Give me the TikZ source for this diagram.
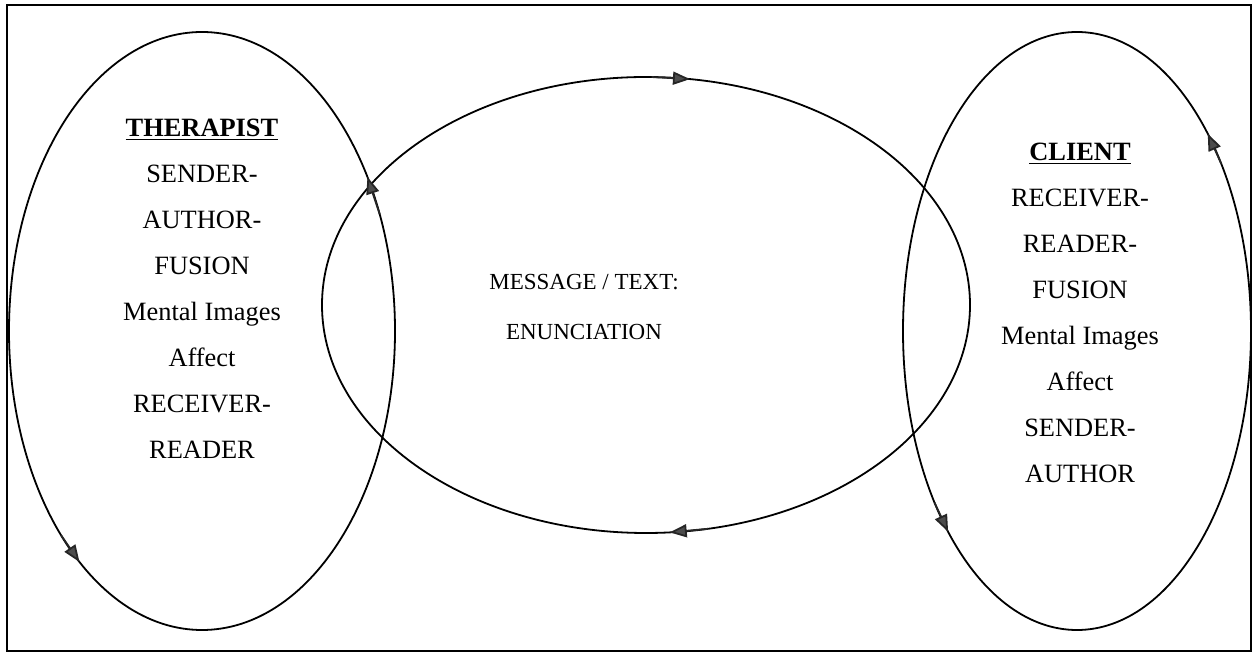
\documentclass[tikz,border=0pt]{standalone}
\usepackage{fontspec}
\setmainfont{Liberation Serif}
\usetikzlibrary{arrows.meta}
\begin{document}
\begin{tikzpicture}[x=0.5pt,y=0.5pt,
  ring/.style={draw=black, line width=0.9pt},
  tipmark/.style={draw=black!85, line width=0.9pt, -{Triangle[length=8.5pt,width=6.5pt,fill=black!70]}},
  side/.style={align=center, font=\fontsize{13.2}{23}\selectfont, inner sep=0pt},
  mid/.style={align=center, font=\fontsize{11.5}{25}\selectfont, inner sep=0pt}]
\useasboundingbox (0,0) rectangle (1252,653);
\draw[line width=1.3pt] (7,2) rectangle (1251,648);
% ellipse centres
\coordinate (L) at (202,322);
\coordinate (M) at (646,348);
\coordinate (R) at (1077,322);
% ellipses
\draw[ring] (L) ellipse [x radius=96.5pt, y radius=149.5pt];
\draw[ring] (M) ellipse [x radius=162pt, y radius=114pt];
\draw[ring] (R) ellipse [x radius=87pt, y radius=149.5pt];
% arrowheads on left ellipse (counterclockwise)
\draw[tipmark] ([shift={(23:193 and 299)}]L) -- ([shift={(31:193 and 299)}]L);
\draw[tipmark] ([shift={(223:193 and 299)}]L) -- ([shift={(230.6:193 and 299)}]L);
% arrowheads on middle ellipse (clockwise)
\draw[tipmark] ([shift={(89:324 and 228)}]M) -- ([shift={(82.2:324 and 228)}]M);
\draw[tipmark] ([shift={(281:324 and 228)}]M) -- ([shift={(274.2:324 and 228)}]M);
% arrowheads on right ellipse (counterclockwise)
\draw[tipmark] ([shift={(34:174 and 299)}]R) -- ([shift={(41.3:174 and 299)}]R);
\draw[tipmark] ([shift={(215:174 and 299)}]R) -- ([shift={(222.2:174 and 299)}]R);
% texts
\node[side] (therapist) at (202,364.5) {\underline{\textbf{THERAPIST}}\\SENDER-\\AUTHOR-\\FUSION\\Mental Images\\Affect\\RECEIVER-\\READER};
\node[side] (client) at (1080,340) {\underline{\textbf{CLIENT}}\\RECEIVER-\\READER-\\FUSION\\Mental Images\\Affect\\SENDER-\\AUTHOR};
\node[mid] (message) at (584,346) {MESSAGE / TEXT:\\ENUNCIATION};
\end{tikzpicture}
\end{document}
